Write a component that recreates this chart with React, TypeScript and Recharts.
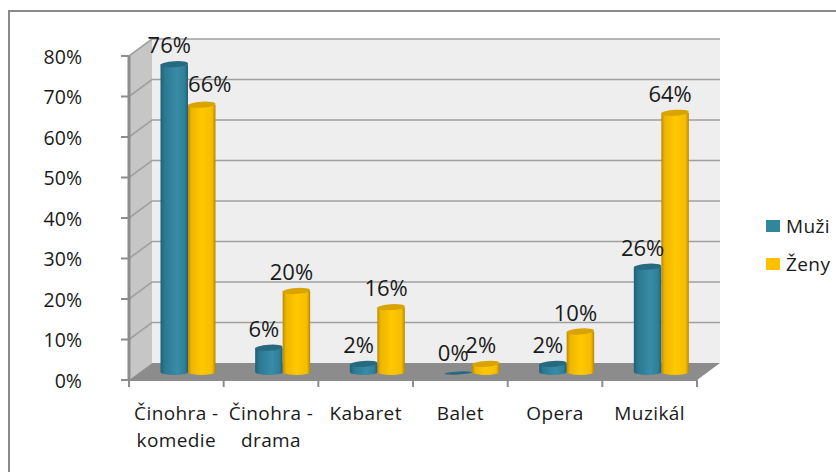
import { BarChart, Bar, XAxis, YAxis, Legend, LabelList, usePlotArea } from "recharts";

const categories = ["Činohra - komedie", "Činohra - drama", "Kabaret", "Balet", "Opera", "Muzikál"];
const muzi = [76, 6, 2, 0, 2, 26];
const zeny = [66, 20, 16, 2, 10, 64];
const yTicks = [0, 10, 20, 30, 40, 50, 60, 70, 80];

const data = categories.map((name, i) => ({ name, Muži: muzi[i], Ženy: zeny[i] }));

const FONT = "'Open Sans', sans-serif";
const GREY = "#8c8c8c";
// how far the back wall sits behind the axis plane
const DEPTH_X = 23;
const DEPTH_Y = -17;
// the cylinders stand half way into the floor
const BAR_DX = DEPTH_X / 2;
const BAR_DY = -8;

function Walls() {
  const plot = usePlotArea();
  if (!plot) return null;
  const { x, y, width, height } = plot;
  const right = x + width;
  const bottom = y + height;
  const pts = (...p: number[][]) => p.map((q) => q.join(",")).join(" ");
  return (
    <g>
      <polygon
        points={pts([x + DEPTH_X, y + DEPTH_Y], [right + DEPTH_X, y + DEPTH_Y], [right + DEPTH_X, bottom + DEPTH_Y], [x + DEPTH_X, bottom + DEPTH_Y])}
        fill="#eeeeee"
      />
      <polygon
        points={pts([x, y], [x + DEPTH_X, y + DEPTH_Y], [x + DEPTH_X, bottom + DEPTH_Y], [x, bottom])}
        fill="#c6c6c6"
      />
      {yTicks.map((t) => {
        const ty = bottom - (t / 80) * height;
        if (t === 0) return null;
        return (
          <polyline
            key={t}
            points={pts([x, ty], [x + DEPTH_X, ty + DEPTH_Y], [right + DEPTH_X, ty + DEPTH_Y])}
            fill="none"
            stroke="#a0a0a0"
            strokeWidth={1.6}
          />
        );
      })}
      <polygon
        points={pts([x, bottom], [x + DEPTH_X, bottom + DEPTH_Y], [right + DEPTH_X, bottom + DEPTH_Y], [right, bottom])}
        fill={GREY}
      />
      <line x1={x} y1={y} x2={x} y2={bottom} stroke={GREY} strokeWidth={3} />
      <line x1={x - 1} y1={bottom} x2={right} y2={bottom} stroke={GREY} strokeWidth={2} />
      {categories.concat("").map((_, i) => {
        const tx = x + (i * width) / categories.length;
        return <line key={i} x1={tx} y1={bottom} x2={tx} y2={bottom + 7} stroke={GREY} strokeWidth={2} />;
      })}
    </g>
  );
}

function Cylinder(props: any) {
  const { x, y, width, height, gradient, top } = props;
  const cx = x + width / 2 + BAR_DX;
  const rx = width / 2;
  const ry = 3;
  const topY = y + BAR_DY;
  const botY = y + height + BAR_DY;
  if (height < 1) {
    return <ellipse cx={cx} cy={botY + 1} rx={rx} ry={1.5} fill={top} transform={`rotate(-3 ${cx} ${botY})`} />;
  }
  const d = `M${cx - rx},${topY} L${cx - rx},${botY} A${rx},${ry} 0 0 0 ${cx + rx},${botY} L${cx + rx},${topY} Z`;
  return (
    <g>
      <path d={d} fill={`url(#${gradient})`} />
      <ellipse cx={cx} cy={topY} rx={rx} ry={ry} fill={top} transform={`rotate(-4 ${cx} ${topY})`} />
    </g>
  );
}

function valueLabel(nudge: (i: number) => number[]) {
  return (props: any) => {
    const { x, y, width, value, index } = props;
    const [nx, ny] = nudge(index);
    return (
      <text
        x={x + width / 2 + BAR_DX - 5 + nx}
        y={y + BAR_DY - 11 + ny}
        textAnchor="middle"
        fontFamily={FONT}
        fontSize={22}
        fill="#1a1a1a"
      >
        {value}%
      </text>
    );
  };
}

function CategoryTick(props: any) {
  const { x, y, payload } = props;
  const lines = payload.value.split(" - ");
  return (
    <text textAnchor="middle" fontFamily={FONT} fontSize={19} fill="#1a1a1a" letterSpacing={0.4}>
      {lines.map((l: string, i: number) => (
        <tspan key={i} x={x} y={y + 38 + i * 27}>
          {lines.length > 1 && i === 0 ? `${l} -` : l}
        </tspan>
      ))}
    </text>
  );
}

function LegendBox({ payload }: any) {
  return (
    <div style={{ fontFamily: FONT, fontSize: 19, color: "#1a1a1a", letterSpacing: 0.4 }}>
      {payload.map((p: any) => (
        <div key={p.value} style={{ display: "flex", alignItems: "center", height: 38 }}>
          <span style={{ width: 14, height: 12, background: p.color, marginRight: 6 }} />
          {p.value}
        </div>
      ))}
    </div>
  );
}

export default function App() {
  return (
    <div style={{ position: "absolute", left: 0, top: 0, width: 836, height: 472, background: "#fff" }}>
      <div style={{ position: "absolute", left: 8, top: 10, width: 828, height: 462, borderTop: "2px solid #8a8a8a", borderLeft: "2px solid #8a8a8a", boxSizing: "border-box" }} />
      <BarChart
        width={836}
        height={472}
        data={data}
        margin={{ left: 0, right: 69, top: 56, bottom: 62 }}
        barSize={27.5}
        barGap={0}
        style={{ position: "absolute", left: 0, top: 0 }}
      >
        <defs>
          <linearGradient id="gradBlue" x1="0" x2="1" y1="0" y2="0">
            <stop offset="0" stopColor="#1f5f76" />
            <stop offset="0.15" stopColor="#2c7890" />
            <stop offset="0.6" stopColor="#388ca7" />
            <stop offset="0.88" stopColor="#2f7f99" />
            <stop offset="1" stopColor="#1f6079" />
          </linearGradient>
          <linearGradient id="gradYellow" x1="0" x2="1" y1="0" y2="0">
            <stop offset="0" stopColor="#b88a00" />
            <stop offset="0.12" stopColor="#eeb500" />
            <stop offset="0.5" stopColor="#ffc800" />
            <stop offset="0.88" stopColor="#f5bd00" />
            <stop offset="1" stopColor="#b58800" />
          </linearGradient>
        </defs>
        <Walls />
        <XAxis
          dataKey="name"
          axisLine={false}
          interval={0}
          tick={<CategoryTick />}
          tickLine={false}
          tickSize={0}
          scale="band"
        />
        <YAxis
          type="number"
          domain={[0, 80]}
          ticks={yTicks}
          width={129}
          axisLine={false}
          tickSize={8}
          tickLine={{ stroke: GREY, strokeWidth: 2 }}
          tickMargin={39}
          tickFormatter={(v) => `${v}%`}
          tick={{ fontFamily: FONT, fontSize: 19.5, fill: "#1a1a1a", dy: 1 }}
        />
        <Legend
          layout="vertical"
          align="right"
          verticalAlign="top"
          content={<LegendBox />}
          wrapperStyle={{ position: "absolute", left: 766, top: 207, width: 70 }}
        />
        <Bar
          dataKey="Muži"
          fill="#31859c"
          isAnimationActive={false}
          shape={<Cylinder gradient="gradBlue" top="#276a80" />}
        >
          <LabelList dataKey="Muži" content={valueLabel(() => [0, 0])} />
        </Bar>
        <Bar
          dataKey="Ženy"
          fill="#ffc000"
          isAnimationActive={false}
          shape={<Cylinder gradient="gradYellow" top="#d9a300" />}
        >
          <LabelList dataKey="Ženy" content={valueLabel((i) => (i === 0 ? [13, -2] : [0, 0]))} />
        </Bar>
      </BarChart>
    </div>
  );
}
